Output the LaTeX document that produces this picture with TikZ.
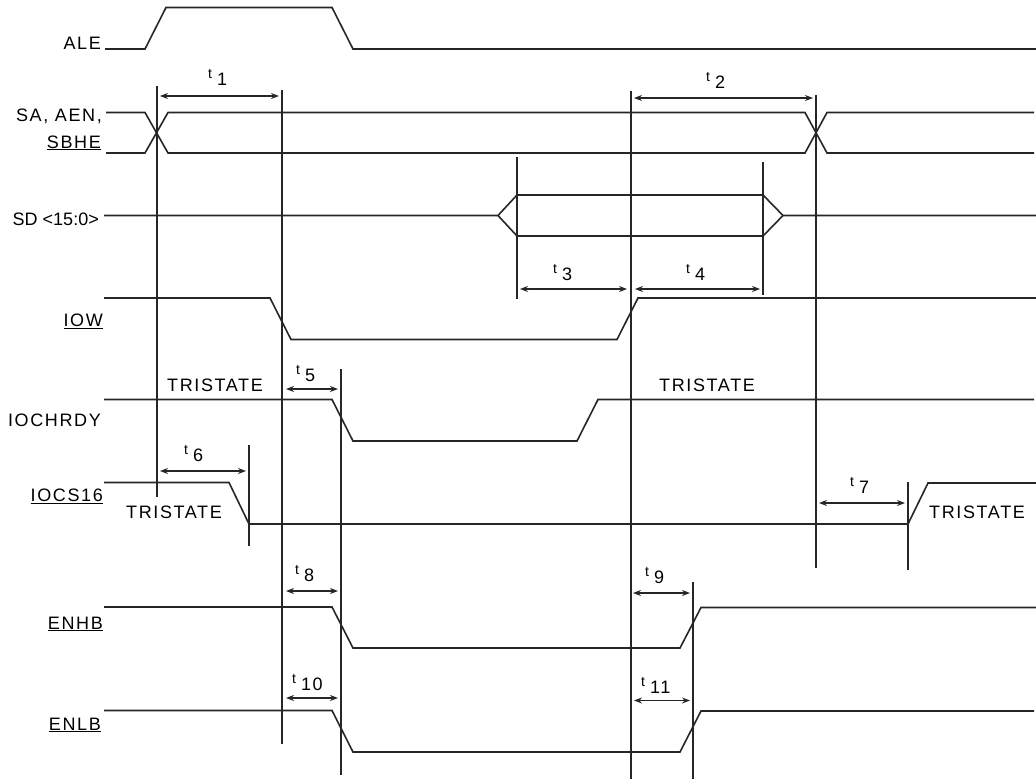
\documentclass[tikz,border=0pt]{standalone}
\usepackage{fontspec}
\setmainfont{Liberation Sans}[LetterSpace=9]
\usetikzlibrary{arrows.meta}
\newcommand\tsub[1]{\raisebox{7pt}{\fontsize{14}{14}\selectfont t}\hspace{5pt}#1}
\begin{document}
\begin{tikzpicture}[x=1pt,y=-1pt,
  sig/.style={line width=1.6pt, line join=miter, color=black!85},
  vline/.style={line width=1.6pt, color=black!85},
  dim/.style={line width=1.3pt, color=black!85, {Stealth[length=8pt,width=6pt]}-{Stealth[length=8pt,width=6pt]}},
  lbl/.style={anchor=base east, inner sep=0pt, font=\fontsize{18}{21}\selectfont},
  txt/.style={anchor=base west, inner sep=0pt, font=\fontsize{18}{21}\selectfont},
  tlab/.style={anchor=base west, inner sep=0pt, font=\fontsize{18}{21}\selectfont}]
\useasboundingbox (0,0) rectangle (1036,779);

% signal names
\node[lbl] (ale) at (101,49) {ALE};
\node[lbl] (sa) at (102,121) {SA, AEN,};
\node[lbl] (sbhe) at (101,148) {\underline{SBHE}};
\node[lbl] (sd) at (99,225) {\addfontfeature{LetterSpace=0}SD <15:0>};
\node[lbl] (iow) at (103,326.5) {\underline{IOW}};
\node[lbl] (iochrdy) at (101,426) {IOCHRDY};
\node[lbl] (iocs) at (103,501.5) {\underline{IOCS16}};
\node[lbl] (enhb) at (103,629) {\underline{ENHB}};
\node[lbl] (enlb) at (101,730) {\underline{ENLB}};

% tristate labels
\node[txt] (ts1) at (167,391) {TRISTATE};
\node[txt] (ts2) at (659,391) {TRISTATE};
\node[txt] (ts3) at (126,518) {TRISTATE};
\node[txt] (ts4) at (929,518) {TRISTATE};

% waveforms
\draw[sig] (105,49) -- (145,49) -- (166,7.5) -- (332,7.5) -- (353,49) -- (1036,49);
\draw[sig] (106,112.5) -- (145,112.5) -- (168,153) -- (805,153) -- (827,112.5) -- (1034,112.5);
\draw[sig] (106,153) -- (145,153) -- (168,112.5) -- (805,112.5) -- (827,153) -- (1034,153);
\draw[sig] (104,215.5) -- (498,215.5) -- (517,195) -- (763,195) -- (783,215.5) -- (1036,215.5);
\draw[sig] (498,215.5) -- (517,236) -- (763,236) -- (783,215.5);
\draw[sig] (104,298) -- (270,298) -- (291,339.5) -- (617,339.5) -- (638,298) -- (1036,298);
\draw[sig] (104,399.5) -- (332,399.5) -- (353,441) -- (577,441) -- (598,399.5) -- (1034,399.5);
\draw[sig] (104,482.5) -- (229,482.5) -- (249,524) -- (908,524) -- (928,483) -- (1036,483);
\draw[sig] (104,607) -- (332,607) -- (353,648) -- (680,648) -- (701,607.5) -- (1036,607.5);
\draw[sig] (104,710.5) -- (332,710.5) -- (353,752) -- (680,752) -- (701,711) -- (1034,711);

% reference lines
\draw[vline] (157,86) -- (157,497);
\draw[vline] (282,90) -- (282,744);
\draw[vline] (631,91) -- (631,779);
\draw[vline] (816,95) -- (816,568);
\draw[vline] (517,157) -- (517,299);
\draw[vline] (763,162) -- (763,295);
\draw[vline] (341,369) -- (341,775);
\draw[vline] (249,445) -- (249,546);
\draw[vline] (908,482) -- (908,570);
\draw[vline] (693,582) -- (693,779);

% timing arrows
\draw[dim] (160,96) -- (279,96);
\draw[dim] (634,98) -- (813,98);
\draw[dim] (520,289) -- (627,289);
\draw[dim] (635,289) -- (760,289);
\draw[dim] (286,389) -- (338,389);
\draw[dim] (160,471) -- (246,471);
\draw[dim] (819,503) -- (905,503);
\draw[dim] (286,591) -- (338,591);
\draw[dim] (633,593) -- (690,593);
\draw[dim] (286,698) -- (338,698);
\draw[dim] (634,700.5) -- (690,700.5);

% timing labels
\node[tlab] (t1) at (208,85) {\tsub{1}};
\node[tlab] (t2) at (706,88) {\tsub{2}};
\node[tlab] (t3) at (553,280) {\tsub{3}};
\node[tlab] (t4) at (686,280) {\tsub{4}};
\node[tlab] (t5) at (296,381.5) {\tsub{5}};
\node[tlab] (t6) at (184,461.5) {\tsub{6}};
\node[tlab] (t7) at (850,493) {\tsub{7}};
\node[tlab] (t8) at (295,581.5) {\tsub{8}};
\node[tlab] (t9) at (645,583) {\tsub{9}};
\node[tlab] (t10) at (292,690) {\tsub{10}};
\node[tlab] (t11) at (641,693) {\tsub{11}};
\end{tikzpicture}
\end{document}
